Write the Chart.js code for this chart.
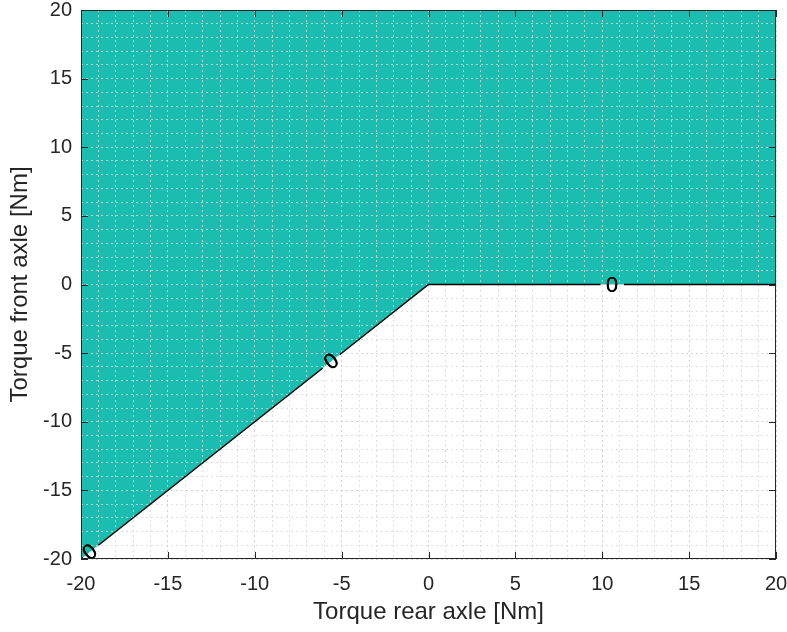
<!DOCTYPE html>
<html>
<head>
<meta charset="utf-8">
<script src="https://cdn.jsdelivr.net/npm/chart.js@4.4.1/dist/chart.umd.min.js"></script>
<style>
html,body{margin:0;padding:0;background:#fff;}
#wrap{width:787px;height:632px;position:relative;}
</style>
</head>
<body>
<div id="wrap"><canvas id="c" width="787" height="632"></canvas></div>
<script>
// Region boundary (level 0 contour) : filled above
const boundaryX = [-20, 0, 20];
const boundaryY = [-20, 0, 0];
// Contour line with breaks where labels sit (null = break)
const lineX = [-20, -19.9, null, -19.0, -6.1, null, -5.1, 0, 9.9, null, 11.25, 20];
const lineY = [-20, -19.9, null, -19.0, -6.1, null, -5.1, 0, 0, null, 0, 0];
// Contour labels
const labelX = [-19.5, -5.6, 10.55];
const labelY = [-19.5, -5.6, 0];
const labelText = ['0', '0', '0'];
const xTitle = 'Torque rear axle [Nm]';
const yTitle = 'Torque front axle [Nm]';
const axisMin = -20, axisMax = 20, majorStep = 5, minorStep = 1;

const teal = 'rgb(26,189,176)';
const axisColor = '#262626';
const fontFam = '"Liberation Sans", Arial, Helvetica, sans-serif';

const fillData = boundaryX.map((x, i) => ({x, y: boundaryY[i]}));
const lineData = lineX.map((x, i) => ({x: x, y: lineY[i]}));

const isMajor = v => Math.abs(v / majorStep - Math.round(v / majorStep)) < 1e-6;

const gridCfg = {
  drawTicks: false,
  lineWidth: 1,
  z: 1,
  color: ctx => (ctx.tick && isMajor(ctx.tick.value)) ? 'rgba(205,205,205,0.9)' : 'rgba(215,215,215,0.8)'
};

const zeroPad = s => { s.paddingLeft = 0; s.paddingRight = 0; s.paddingTop = 0; s.paddingBottom = 0; };

const LINE_IDX = 1;

const boxPlugin = {
  id: 'boxPlugin',
  beforeDatasetDraw(chart, args) {
    if (args.index === LINE_IDX && !chart.$lateDraw) return false;
  },
  afterDraw(chart) {
    const {ctx, chartArea: a, scales} = chart;
    const xs = scales.x, ys = scales.y;
    // contour line drawn above the grid
    ctx.save();
    ctx.beginPath();
    ctx.rect(a.left, a.top, a.right - a.left, a.bottom - a.top);
    ctx.clip();
    chart.$lateDraw = true;
    chart.getDatasetMeta(LINE_IDX).controller.draw();
    chart.$lateDraw = false;
    ctx.restore();

    ctx.save();
    // contour labels
    ctx.fillStyle = '#000';
    ctx.font = '22px ' + fontFam;
    ctx.textAlign = 'center';
    ctx.textBaseline = 'middle';
    labelX.forEach((lx, i) => {
      const px = xs.getPixelForValue(lx), py = ys.getPixelForValue(labelY[i]);
      let ang = 0;
      if (lx < 0) {
        const dx = xs.getPixelForValue(1) - xs.getPixelForValue(0);
        const dy = ys.getPixelForValue(1) - ys.getPixelForValue(0);
        ang = Math.atan2(dy, dx);
      }
      ctx.save();
      ctx.translate(px, py);
      ctx.rotate(ang);
      ctx.fillText(labelText[i], 0, 1);
      ctx.fillText(labelText[i], 0.4, 1);
      ctx.restore();
    });
    // axes box
    ctx.strokeStyle = axisColor;
    ctx.lineWidth = 1;
    ctx.strokeRect(Math.round(a.left) + 0.5, Math.round(a.top) + 0.5,
      Math.round(a.right) - Math.round(a.left) - 1, Math.round(a.bottom) - Math.round(a.top) - 1);
    // inside tick marks at majors
    const tl = 7;
    ctx.beginPath();
    for (let v = axisMin; v <= axisMax + 1e-9; v += majorStep) {
      const px = Math.round(xs.getPixelForValue(v)) + 0.5;
      ctx.moveTo(px, a.bottom); ctx.lineTo(px, a.bottom - tl);
      ctx.moveTo(px, a.top); ctx.lineTo(px, a.top + tl);
      const py = Math.round(ys.getPixelForValue(v)) + 0.5;
      ctx.moveTo(a.left, py); ctx.lineTo(a.left + tl, py);
      ctx.moveTo(a.right, py); ctx.lineTo(a.right - tl, py);
    }
    ctx.stroke();
    ctx.restore();
  }
};

new Chart(document.getElementById('c'), {
  type: 'line',
  data: {
    datasets: [
      {
        data: fillData,
        fill: 'end',
        backgroundColor: teal,
        borderWidth: 0,
        pointRadius: 0,
        tension: 0
      },
      {
        data: lineData,
        fill: false,
        borderColor: '#000',
        borderWidth: 1.5,
        pointRadius: 0,
        spanGaps: false,
        tension: 0
      }
    ]
  },
  options: {
    responsive: false,
    animation: false,
    devicePixelRatio: 1,
    layout: {padding: {top: 10, right: 11, left: 0, bottom: 0}},
    plugins: {legend: {display: false}, tooltip: {enabled: false}},
    scales: {
      x: {
        type: 'linear',
        min: axisMin, max: axisMax,
        grid: gridCfg,
        border: {display: false, dash: [2, 3]},
        ticks: {
          stepSize: minorStep, autoSkip: false, maxRotation: 0,
          padding: 13, color: axisColor,
          font: {family: fontFam, size: 20},
          callback: v => isMajor(v) ? String(v) : ''
        },
        title: {display: true, text: xTitle, color: axisColor,
          font: {family: fontFam, size: 24}, padding: {top: 0, bottom: 5}},
        afterFit: s => { s.height = 73; zeroPad(s); }
      },
      y: {
        type: 'linear',
        min: axisMin, max: axisMax,
        grid: gridCfg,
        border: {display: false, dash: [2, 3]},
        ticks: {
          stepSize: minorStep, autoSkip: false,
          padding: 9, color: axisColor,
          font: {family: fontFam, size: 20},
          callback: v => isMajor(v) ? String(v) : ''
        },
        title: {display: true, text: yTitle, color: axisColor,
          font: {family: fontFam, size: 24}, padding: {top: 6, bottom: 0}},
        afterFit: s => { s.width = 81; zeroPad(s); }
      }
    }
  },
  plugins: [boxPlugin]
});
</script>
</body>
</html>
